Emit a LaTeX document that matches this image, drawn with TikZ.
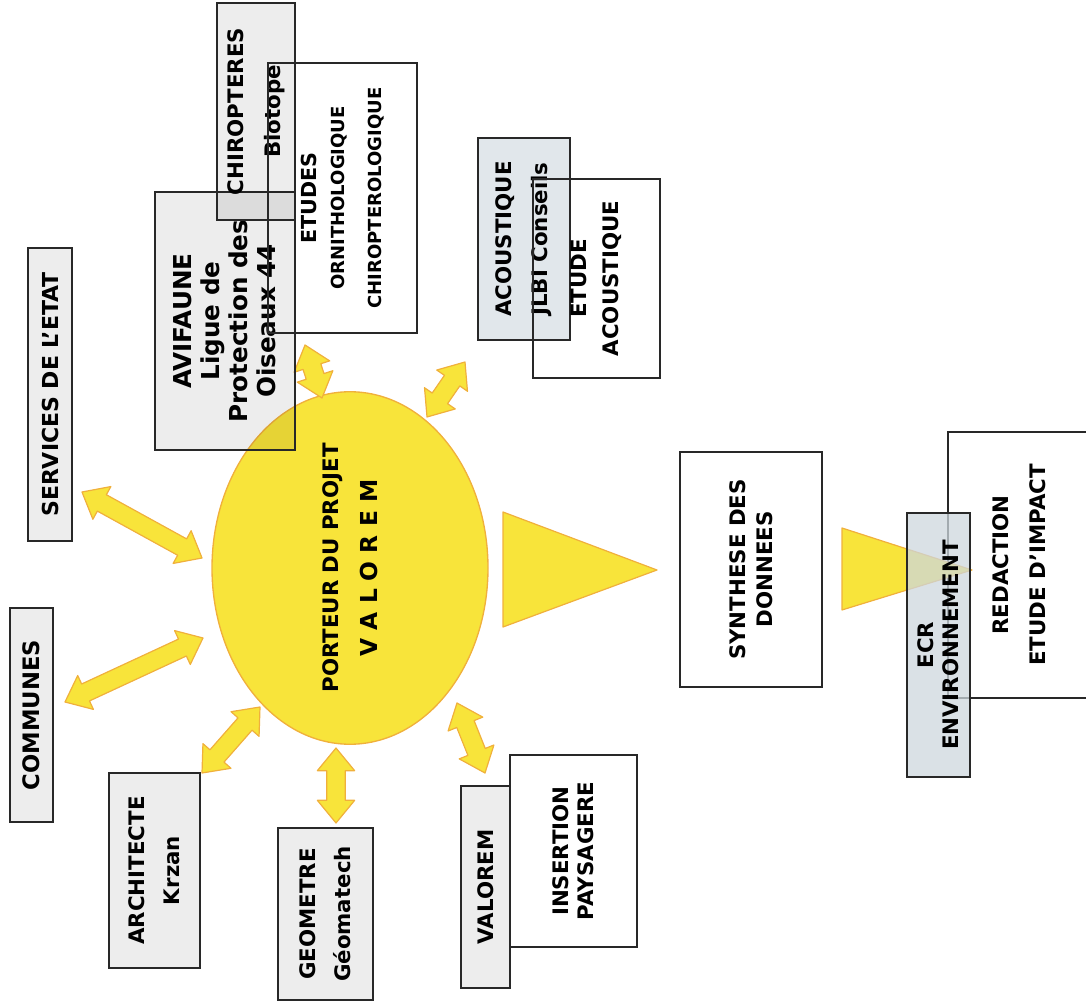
\documentclass[tikz,border=0pt]{standalone}
\usepackage{fontspec}
\setmainfont{DejaVu Sans}
\usetikzlibrary{calc,shapes.geometric}

\definecolor{sunfill}{RGB}{248,228,58}
\definecolor{sunline}{RGB}{240,176,60}
\definecolor{boxline}{RGB}{40,40,40}
\definecolor{boxblue}{RGB}{205,215,222}

\newcommand{\fatarrow}[2]{%
  \filldraw[fat] (#1)
    -- ($(#1)!17pt!(#2)!14pt!90:(#2)$)
    -- ($(#1)!17pt!(#2)!7pt!90:(#2)$)
    -- ($(#2)!17pt!(#1)!7pt!-90:(#1)$)
    -- ($(#2)!17pt!(#1)!14pt!-90:(#1)$)
    -- (#2)
    -- ($(#2)!17pt!(#1)!14pt!90:(#1)$)
    -- ($(#2)!17pt!(#1)!7pt!90:(#1)$)
    -- ($(#1)!17pt!(#2)!7pt!-90:(#2)$)
    -- ($(#1)!17pt!(#2)!14pt!-90:(#2)$)
    -- cycle;}

\begin{document}
\begin{tikzpicture}[x=0.75pt, y=-0.75pt,
    box/.style = {draw=boxline, line width=0.9pt, rotate=90, align=center, inner sep=0pt,
                  font=\bfseries\fontsize{16}{20}\selectfont},
    shaded/.style = {box, fill=black, fill opacity=0.07, text opacity=1},
    tinted/.style = {box, fill=boxblue, fill opacity=0.6, text opacity=1},
    sun/.style = {ellipse, fill=sunfill, draw=sunline, line width=1pt, rotate=90, align=center,
                  inner sep=0pt, font=\bfseries\fontsize{16}{29}\selectfont},
    fat/.style = {fill=sunfill, draw=sunline, line width=0.9pt, line join=round}]
  \useasboundingbox (0,0) rectangle (1086,1005);
  %
  \node[sun, minimum width=255pt, minimum height=207pt] (porteur) at (350,568)
    {PORTEUR DU PROJET\\{\fontsize{17.5}{29}\selectfont V A L O R E M}};
  %
  \coordinate (etatA) at (82,492);   \coordinate (etatB) at (202,558);
  \coordinate (comA) at (65,702);    \coordinate (comB) at (203,638);
  \coordinate (archA) at (202,773);  \coordinate (archB) at (260,707);
  \coordinate (geoA) at (336,823);   \coordinate (geoB) at (336,748);
  \coordinate (valA) at (485,773);   \coordinate (valB) at (457,703);
  \coordinate (aviA) at (305,345);   \coordinate (aviB) at (322,398);
  \coordinate (acoA) at (465,362);   \coordinate (acoB) at (427,417);
  \fatarrow{etatA}{etatB}
  \fatarrow{comA}{comB}
  \fatarrow{archA}{archB}
  \fatarrow{geoA}{geoB}
  \fatarrow{valA}{valB}
  \fatarrow{aviA}{aviB}
  \fatarrow{acoA}{acoB}
  \filldraw[fat] (503,512) -- (503,627) -- (657,570) -- cycle;
  %
  \node[shaded, minimum width=219.75pt, minimum height=33pt,
        font=\bfseries\fontsize{16.5}{20}\selectfont] (etat) at (50,394.5) {SERVICES DE L’ETAT};
  \node[shaded, minimum width=160.5pt, minimum height=32.25pt,
        font=\bfseries\fontsize{17}{20}\selectfont] (communes) at (31.5,715) {COMMUNES};
  \node[shaded, minimum width=193.5pt, minimum height=105pt,
        font=\bfseries\fontsize{18.5}{21}\selectfont] (avifaune) at (225,321)
    {AVIFAUNE\\Ligue de\\Protection des\\Oiseaux 44};
  \node[shaded, minimum width=162.75pt, minimum height=58.5pt] (chiro) at (256,111.5)
    {CHIROPTERES\\[8pt]Biotope};
  \node[box, minimum width=202.5pt, minimum height=111.75pt,
        font=\bfseries\fontsize{15.5}{20}\selectfont] (etudes) at (342.5,198)
    {ETUDES\\[1pt]{\fontsize{13.5}{20}\selectfont ORNITHOLOGIQUE}\\[8pt]{\fontsize{13.5}{20}\selectfont CHIROPTEROLOGIQUE}};
  \node[tinted, minimum width=151.5pt, minimum height=69pt] (acoustique) at (524,239)
    {ACOUSTIQUE\\[7pt]JLBI Conseils};
  \node[box, minimum width=149.25pt, minimum height=95.25pt,
        font=\bfseries\fontsize{16}{24}\selectfont] (etudeac) at (596.5,278.5) {ETUDE\\ACOUSTIQUE};
  \node[box, minimum width=176.25pt, minimum height=106.5pt] (synthese) at (751,569.5)
    {SYNTHESE DES\\DONNEES};
  \node[box, minimum width=199.5pt, minimum height=106.5pt,
        font=\bfseries\fontsize{16}{28}\selectfont] (redaction) at (1019,565)
    {REDACTION\\ETUDE D’IMPACT};
  \filldraw[fat] (842,528) -- (842,610) -- (972,570) -- cycle;
  \node[tinted, fill opacity=0.75, minimum width=198pt, minimum height=47.25pt,
        font=\bfseries\fontsize{16}{19}\selectfont] (ecr) at (938.5,645) {ECR\\ENVIRONNEMENT};
  %
  \node[shaded, minimum width=146.25pt, minimum height=68.25pt,
        font=\bfseries\fontsize{16}{26}\selectfont] (architecte) at (154.5,870.5) {ARCHITECTE\\Krzan};
  \node[shaded, minimum width=129pt, minimum height=71.25pt,
        font=\bfseries\fontsize{16}{26}\selectfont] (geometre) at (325.5,914) {GEOMETRE\\Géomatech};
  \node[shaded, minimum width=151.5pt, minimum height=36.75pt] (valorem) at (485.5,887) {VALOREM};
  \node[box, minimum width=144pt, minimum height=95.25pt,
        font=\bfseries\fontsize{16}{19}\selectfont] (insertion) at (573.5,851) {INSERTION\\PAYSAGERE};
\end{tikzpicture}
\end{document}
